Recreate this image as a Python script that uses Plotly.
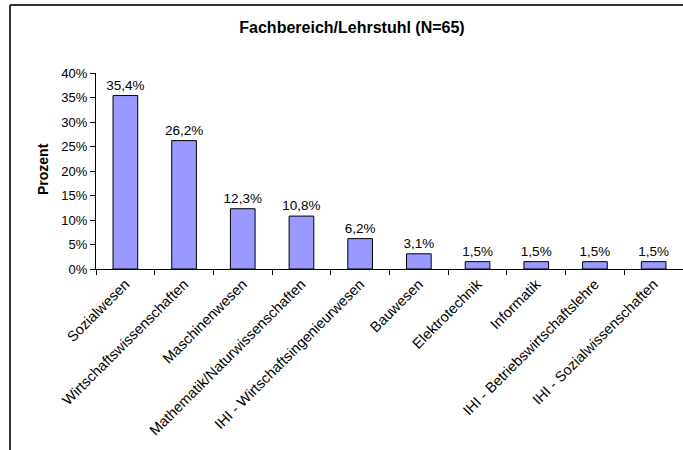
import plotly.graph_objects as go

categories = ["Sozialwesen", "Wirtschaftswissenschaften", "Maschinenwesen",
              "Mathematik/Naturwissenschaften", "IHI - Wirtschaftsingenieurwesen",
              "Bauwesen", "Elektrotechnik", "Informatik",
              "IHI - Betriebswirtschaftslehre", "IHI - Sozialwissenschaften"]
values = [0.354, 0.262, 0.123, 0.108, 0.062, 0.031, 0.015, 0.015, 0.015, 0.015]
y_ticks = [0, 0.05, 0.10, 0.15, 0.20, 0.25, 0.30, 0.35, 0.40]

W, H = 683, 450
L, R, T, B = 96, 0, 73, 181
pw, ph = W - L - R, H - T - B

def px_x(x):
    return (x - L) / pw

def px_y(y):
    return (H - B - y) / ph

FONT = "Arial, Liberation Sans, sans-serif"

fig = go.Figure(go.Bar(
    x=categories, y=values,
    marker=dict(color="#9999FF", line=dict(color="black", width=1)),
    texttemplate="%{y:.1%}", textposition="outside", constraintext="none",
    textfont=dict(family=FONT, size=13.5, color="black"),
    cliponaxis=False,
))

fig.update_layout(
    width=W, height=H,
    margin=dict(l=L, r=R, t=T, b=B),
    paper_bgcolor="white", plot_bgcolor="white",
    separators=",.",
    bargap=0.58,
    showlegend=False,
    font=dict(family=FONT, color="black"),
    title=dict(text="<b>Fachbereich/Lehrstuhl (N=65)</b>", x=352 / W, xanchor="center",
               y=1 - 27 / H, yanchor="middle", font=dict(family=FONT, size=16, color="black")),
    xaxis=dict(showline=True, linecolor="black", linewidth=1, ticks="outside",
               tickson="boundaries", ticklen=5, tickcolor="black", tickangle=-45,
               tickfont=dict(family=FONT, size=14.5, color="black"), showgrid=False),
    yaxis=dict(range=[0, 0.4], tickvals=y_ticks, tickformat=".0%", showline=True,
               linecolor="black", linewidth=1, ticks="outside", ticklen=5, tickcolor="black",
               tickfont=dict(family=FONT, size=13, color="black"), showgrid=False,
               zeroline=False),
    annotations=[dict(text="<b>Prozent</b>", textangle=-90, x=px_x(33), y=px_y(169),
                      xref="paper", yref="paper", showarrow=False,
                      font=dict(family=FONT, size=14, color="black"))],
    shapes=[
        dict(type="line", xref="paper", yref="paper", x0=px_x(10), x1=px_x(10),
             y0=px_y(5), y1=px_y(460), line=dict(color="#333333", width=2)),
        dict(type="line", xref="paper", yref="paper", x0=px_x(10), x1=px_x(690),
             y0=px_y(5), y1=px_y(5), line=dict(color="#333333", width=2)),
    ],
)

fig.write_html("out.html", config={"displayModeBar": False},
               post_script="document.body.style.margin='0';")
